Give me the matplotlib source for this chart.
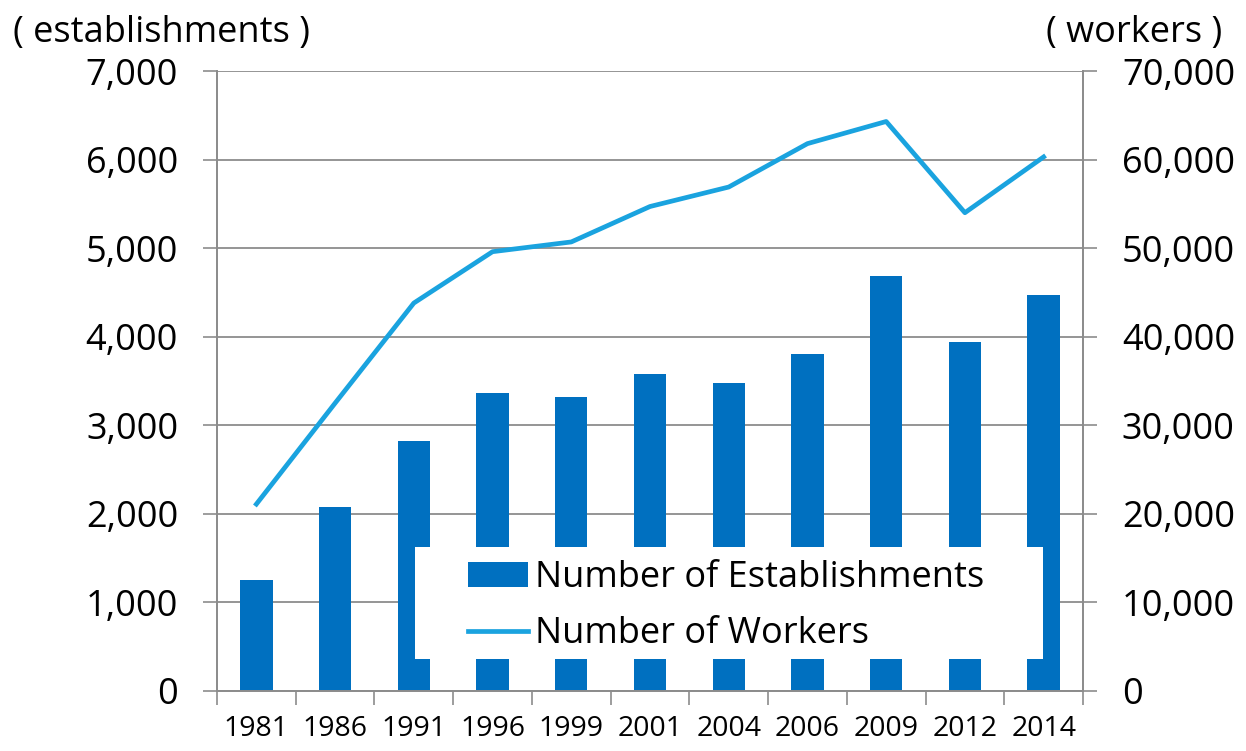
import matplotlib
matplotlib.use("Agg")
import matplotlib.pyplot as plt
import numpy as np
from matplotlib.patches import Rectangle
from matplotlib.ticker import FuncFormatter, FixedLocator

plt.rcParams['font.family'] = ['Open Sans', 'DejaVu Sans']

years = ['1981', '1986', '1991', '1996', '1999', '2001', '2004', '2006', '2009', '2012', '2014']
establishments = [1250, 2080, 2820, 3370, 3320, 3575, 3475, 3800, 4690, 3940, 4470]
workers = [21100, 32500, 43800, 49600, 50700, 54700, 56900, 61800, 64300, 54000, 60300]

bar_color = '#0070C0'
line_color = '#1AA3DF'
grid_color = '#8C8C8C'

fig = plt.figure(figsize=(12.46, 7.51), dpi=100)
ax = fig.add_axes([217/1246, 60/751, 866/1246, 620/751])
ax2 = ax.twinx()

x = np.arange(len(years))
ax.bar(x, establishments, width=0.41, color=bar_color, zorder=2, label='Number of Establishments')
ax2.plot(x, workers, color=line_color, lw=3.4, zorder=3, label='Number of Workers')

ax.set_xlim(-0.5, len(years) - 0.5)
ax.set_ylim(0, 7000)
ax2.set_ylim(0, 70000)
ax.set_yticks(np.arange(0, 7001, 1000))
ax2.set_yticks(np.arange(0, 70001, 10000))
fmt = FuncFormatter(lambda v, p: f"{int(v):,}")
ax.yaxis.set_major_formatter(fmt)
ax2.yaxis.set_major_formatter(fmt)

ax.set_xticks(x)
ax.set_xticklabels(years)
ax.xaxis.set_minor_locator(FixedLocator(np.arange(-0.5, len(years), 1.0)))
ax.tick_params(axis='x', which='major', length=0, labelsize=20.5, pad=17)
ax.tick_params(axis='x', which='minor', length=10, width=1.2, color=grid_color, direction='out')
ax.tick_params(axis='y', length=10, width=1.2, color=grid_color, labelsize=26, pad=18)
ax2.tick_params(axis='y', length=10, width=1.2, color=grid_color, labelsize=26, pad=18)

ax.yaxis.grid(True, color=grid_color, lw=1.3, zorder=0)
ax.set_axisbelow(True)
for a in (ax, ax2):
    a.spines['top'].set_visible(False)
    for s in ('left', 'right', 'bottom'):
        a.spines[s].set_color(grid_color)
        a.spines[s].set_linewidth(1.3)

# legend with white background box
rect = Rectangle((0.229, 0.052), 0.725, 0.18, transform=ax2.transAxes,
                 facecolor='white', edgecolor='none', zorder=5)
ax2.add_patch(rect)
h1, l1 = ax.get_legend_handles_labels()
h2, l2 = ax2.get_legend_handles_labels()
leg = ax2.legend(h1 + h2, l1 + l2, loc='upper left', bbox_to_anchor=(0.29, 0.211),
                 frameon=False, fontsize=26, handlelength=1.65, handleheight=0.65,
                 handletextpad=0.2, borderpad=0, borderaxespad=0, labelspacing=0.55)
leg.set_zorder(6)

fig.text(13/1246, 1 - 33/751, '( establishments )', fontsize=26, va='center', ha='left')
fig.text(1222/1246, 1 - 33/751, '( workers )', fontsize=26, va='center', ha='right')

fig.savefig('out.png', dpi=100)
